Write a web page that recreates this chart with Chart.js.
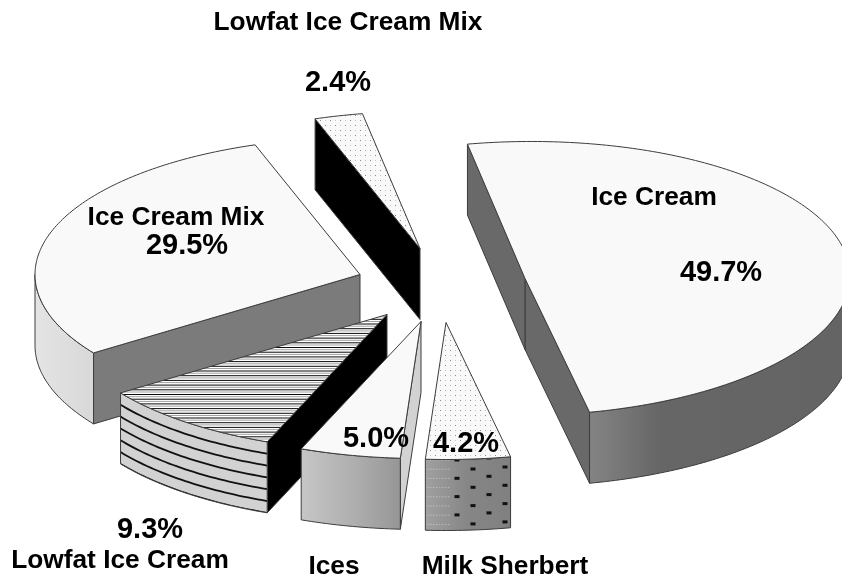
<!DOCTYPE html>
<html>
<head>
<meta charset="utf-8">
<style>html,body{margin:0;padding:0;background:#fff}canvas{display:block}</style>
<script src="https://cdn.jsdelivr.net/npm/chart.js@4/dist/chart.umd.min.js"></script>
</head>
<body>
<canvas id="c" width="842" height="581"></canvas>
<script>
// ---- data ----
const categories = ['Ice Cream', 'Milk Sherbert', 'Ices', 'Lowfat Ice Cream', 'Ice Cream Mix', 'Lowfat Ice Cream Mix'];
const shares = [49.7, 4.2, 5.0, 9.3, 29.5, 2.4];

// ---- exploded-pie layout ----
const pieRotation = -10.2;
const semiX = 325, semiY = 137, depth = 71;
const explodeX = [88, 9, -16, -50, -77, -17];
const explodeY = [-12, 32, 31, 24, -16, -42];
const tilt = [-0.008, 0, 0, 0, 0, 0];
const drawOrder = [5, 4, 3, 2, 1, 0];
const faceColors = ['#f9f9f9', '#f9f9f9', '#f9f9f9', '#ffffff', '#f9f9f9', '#f9f9f9'];
const innerWall = ['#696969', '#808080', '#d2d2d2', '#000000', '#7b7b7b', '#000000'];
const outerWall = [['#848484', '#666666', '#646464'], ['#a0a0a0', '#868686', '#808080'], ['#c6c6c6', '#b0b0b0', '#969696'],
                   ['#d2d2d2', '#d2d2d2', '#d2d2d2'], ['#e4e4e4', '#dedede', '#d8d8d8'], ['#000', '#000', '#000']];
const facePattern = [null, 'dots', null, 'hatch', null, 'dots'];
const wallPattern = [null, 'dashes', null, 'bands', null, null];

// ---- labels: [text or share index, centre x, baseline y] ----
const nameLabels = [
  ['Lowfat Ice Cream Mix', 348, 30], ['Ice Cream', 654, 205], ['Ice Cream Mix', 176, 225],
  ['Lowfat Ice Cream', 120, 568], ['Ices', 334, 574], ['Milk Sherbert', 505, 574]
];
const shareLabels = [[0, 721, 281], [1, 466, 452], [2, 376, 447], [3, 150, 538], [4, 187, 254], [5, 338, 91]];

function dotTile(ctx) {
  const t = document.createElement('canvas');
  t.width = 10; t.height = 10;
  const g = t.getContext('2d');
  g.fillStyle = '#8a8a8a';
  g.fillRect(0, 0, 1, 1); g.fillRect(5, 5, 1, 1);
  g.fillStyle = '#c4c4c4';
  g.fillRect(5, 0, 1, 1); g.fillRect(0, 5, 1, 1);
  return ctx.createPattern(t, 'repeat');
}

const exploded3D = {
  id: 'exploded3D',
  beforeDatasetDraw(chart) {
    const ctx = chart.ctx;
    const arcs = chart.getDatasetMeta(0).data;
    drawOrder.forEach(i => drawSlice(ctx, arcs[i], i));
    return false;
  },
  afterDraw(chart) {
    const ctx = chart.ctx;
    ctx.save();
    ctx.fillStyle = '#000';
    ctx.textAlign = 'center';
    ctx.textBaseline = 'alphabetic';
    ctx.font = 'bold 26.3px "Liberation Sans", Arial, sans-serif';
    nameLabels.forEach(([t, x, y]) => ctx.fillText(t, x, y));
    ctx.font = 'bold 29px "Liberation Sans", Arial, sans-serif';
    shareLabels.forEach(([k, x, y]) => ctx.fillText(shares[k].toFixed(1) + '%', x, y));
    ctx.restore();
  }
};

function drawSlice(ctx, arc, i) {
  const px = arc.x + explodeX[i], py = arc.y + explodeY[i];
  const pt = th => [px + semiX * Math.cos(th), py + semiY * Math.sin(th) + tilt[i] * semiX * Math.cos(th)];
  const s = arc.startAngle, e = arc.endAngle;
  const ellipse = (from, to, dy) => {
    const n = Math.max(2, Math.ceil(Math.abs(to - from) * 60));
    const out = [];
    for (let k = 0; k <= n; k++) {
      const p = pt(from + (to - from) * k / n);
      out.push([p[0], p[1] + dy]);
    }
    return out;
  };
  const poly = points => {
    ctx.beginPath();
    points.forEach((p, k) => k ? ctx.lineTo(p[0], p[1]) : ctx.moveTo(p[0], p[1]));
    ctx.closePath();
  };
  ctx.save();
  ctx.lineJoin = 'round';
  ctx.lineWidth = 1;
  ctx.strokeStyle = '#3c3c3c';

  // flat cut walls that face the viewer
  const wall = th => {
    const q = pt(th);
    poly([[px, py], q, [q[0], q[1] + depth], [px, py + depth]]);
    ctx.fillStyle = innerWall[i];
    ctx.fill();
    ctx.stroke();
  };
  if (Math.cos(e) > 0) wall(e);
  if (Math.cos(s) < 0) wall(s);

  // rounded outer wall: only the part of the rim on the viewer's side
  const from = Math.max(s, 0), to = Math.min(e, Math.PI);
  if (to > from) {
    const top = ellipse(from, to, 0);
    const shape = top.concat(ellipse(to, from, depth));
    const xs = top.map(p => p[0]);
    const g = ctx.createLinearGradient(Math.min(...xs), 0, Math.min(Math.max(...xs), 842), 0);
    const left = outerWall[i][0], mid = outerWall[i][1], right = outerWall[i][2];
    g.addColorStop(0, left); g.addColorStop(i === 0 ? 0.28 : 0.5, mid); g.addColorStop(1, right);
    poly(shape);
    ctx.fillStyle = g;
    ctx.fill();
    if (wallPattern[i]) {
      ctx.save();
      poly(shape);
      ctx.clip();
      const x0 = Math.min(...xs);
      if (wallPattern[i] === 'bands') {
        ctx.strokeStyle = '#111';
        ctx.lineWidth = 1.8;
        for (let b = 1; b <= 6; b++) {
          const line = ellipse(from, to, depth * b / 6);
          ctx.beginPath();
          line.forEach((p, k) => k ? ctx.lineTo(p[0], p[1]) : ctx.moveTo(p[0], p[1]));
          ctx.stroke();
        }
      } else {
        ctx.fillStyle = '#111';
        for (let r = 0; r < 5; r++) {
          [[457, 460], [473, 469], [489, 458], [505, 467]].forEach(([dx, dy]) => ctx.fillRect(dx - 2.5, dy + r * 18.3 - 1.5, 5, 3));
        }
        ctx.fillStyle = 'rgba(225,225,225,.75)';
        for (let yy = 459; yy < 530; yy += 9.2) {
          for (let xx = x0 + 2; xx < 451; xx += 3) ctx.fillRect(xx, yy + 0.5, 1, 1);
        }
      }
      ctx.restore();
    }
    poly(shape);
    ctx.stroke();
  }

  // the top face is the library's own arc element, squashed into perspective
  const rx = semiX / arc.outerRadius, ry = semiY / arc.outerRadius;
  ctx.save();
  ctx.translate(px, py);
  ctx.transform(rx, tilt[i] * rx, 0, ry, 0, 0);
  ctx.translate(-arc.x, -arc.y);
  arc.draw(ctx);
  ctx.restore();

  const face = [[px, py]].concat(ellipse(s, e, 0));
  if (facePattern[i]) {
    ctx.save();
    poly(face);
    ctx.clip();
    if (facePattern[i] === 'dots') {
      ctx.fillStyle = dotTile(ctx);
      ctx.fillRect(0, 0, 842, 581);
    } else {
      for (let yy = 300; yy < 460; yy += 4.7) {
        ctx.fillStyle = '#0a0a0a';
        ctx.fillRect(0, yy, 842, 1);
        ctx.fillStyle = '#a0a0a0';
        ctx.fillRect(0, yy + 2.2, 842, 1);
      }
    }
    ctx.restore();
  }
  poly(face);
  ctx.stroke();
  ctx.restore();
}

new Chart(document.getElementById('c'), {
  type: 'pie',
  data: {
    labels: categories,
    datasets: [{ data: shares, backgroundColor: faceColors, borderWidth: 0 }]
  },
  options: {
    responsive: false,
    animation: false,
    rotation: pieRotation,
    layout: { padding: { left: 32 } },
    plugins: { legend: { display: false }, tooltip: { enabled: false } }
  },
  plugins: [exploded3D]
});
</script>
</body>
</html>
